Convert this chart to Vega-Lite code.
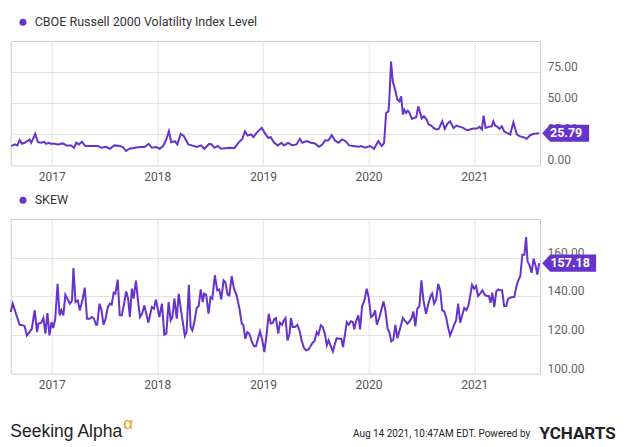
{
  "$schema": "https://vega.github.io/schema/vega-lite/v6.json",
  "padding": {"left": 5.7, "top": 9, "right": 0, "bottom": 0},
  "spacing": 4,
  "background": "white",
  "config": {
    "font": "Roboto",
    "view": {"stroke": "#cccccc", "strokeWidth": 1},
    "axis": {"gridColor": "#e2e2e2", "domain": false, "ticks": false, "labelColor": "#666666", "labelFontSize": 12, "labelFont": "Roboto"},
    "legend": {"orient": "top", "title": null, "symbolType": "circle", "symbolSize": 49, "symbolFillColor": "#6633cc", "symbolStrokeWidth": 0, "labelFontSize": 12.5, "labelColor": "#333333", "labelFont": "Roboto", "labelLimit": 0, "labelOffset": 5.5, "offset": 6, "padding": 6}
  },
  "datasets": {
    "rvx": [
      {"date": "2016-08-14", "value": 15.5}, {"date": "2016-08-26", "value": 16.8}, {"date": "2016-09-04", "value": 16.0}, {"date": "2016-09-12", "value": 20.2},
      {"date": "2016-09-20", "value": 17.3}, {"date": "2016-09-29", "value": 18.1}, {"date": "2016-10-08", "value": 19.4}, {"date": "2016-10-16", "value": 20.8},
      {"date": "2016-10-22", "value": 18.1}, {"date": "2016-11-05", "value": 25.3}, {"date": "2016-11-14", "value": 18.6}, {"date": "2016-11-26", "value": 18.1},
      {"date": "2016-12-05", "value": 18.9}, {"date": "2016-12-13", "value": 17.3}, {"date": "2016-12-21", "value": 18.1}, {"date": "2016-12-30", "value": 17.3},
      {"date": "2017-01-11", "value": 17.3}, {"date": "2017-01-22", "value": 16.8}, {"date": "2017-02-09", "value": 17.6}, {"date": "2017-02-20", "value": 16.0},
      {"date": "2017-03-09", "value": 16.0}, {"date": "2017-03-19", "value": 14.1}, {"date": "2017-03-27", "value": 18.1}, {"date": "2017-04-05", "value": 16.8},
      {"date": "2017-04-15", "value": 18.9}, {"date": "2017-04-27", "value": 15.5}, {"date": "2017-05-18", "value": 15.5}, {"date": "2017-06-10", "value": 15.5},
      {"date": "2017-06-21", "value": 14.1}, {"date": "2017-07-08", "value": 14.9}, {"date": "2017-07-20", "value": 13.3}, {"date": "2017-08-06", "value": 16.0},
      {"date": "2017-08-24", "value": 15.5}, {"date": "2017-09-04", "value": 14.7}, {"date": "2017-09-15", "value": 11.5}, {"date": "2017-09-27", "value": 13.3},
      {"date": "2017-10-15", "value": 14.1}, {"date": "2017-11-01", "value": 14.7}, {"date": "2017-11-18", "value": 14.7}, {"date": "2017-12-02", "value": 17.3},
      {"date": "2017-12-13", "value": 14.1}, {"date": "2017-12-28", "value": 14.7}, {"date": "2018-01-09", "value": 13.3}, {"date": "2018-01-21", "value": 15.5},
      {"date": "2018-02-01", "value": 20.8}, {"date": "2018-02-10", "value": 27.4}, {"date": "2018-02-18", "value": 18.6}, {"date": "2018-03-02", "value": 19.4},
      {"date": "2018-03-11", "value": 16.8}, {"date": "2018-03-23", "value": 25.3}, {"date": "2018-04-03", "value": 23.4}, {"date": "2018-04-18", "value": 16.8},
      {"date": "2018-04-30", "value": 16.0}, {"date": "2018-05-17", "value": 14.7}, {"date": "2018-06-01", "value": 16.0}, {"date": "2018-06-13", "value": 13.3},
      {"date": "2018-06-29", "value": 17.3}, {"date": "2018-07-08", "value": 16.8}, {"date": "2018-07-17", "value": 14.1}, {"date": "2018-07-29", "value": 15.5},
      {"date": "2018-08-09", "value": 13.3}, {"date": "2018-08-23", "value": 13.8}, {"date": "2018-09-09", "value": 14.1}, {"date": "2018-09-24", "value": 13.8},
      {"date": "2018-10-08", "value": 18.1}, {"date": "2018-10-22", "value": 21.3}, {"date": "2018-10-31", "value": 27.4}, {"date": "2018-11-09", "value": 24.0},
      {"date": "2018-11-21", "value": 24.8}, {"date": "2018-11-29", "value": 22.6}, {"date": "2018-12-10", "value": 26.1}, {"date": "2018-12-28", "value": 30.1},
      {"date": "2019-01-07", "value": 26.1}, {"date": "2019-01-19", "value": 22.1}, {"date": "2019-01-28", "value": 22.6}, {"date": "2019-02-09", "value": 18.1},
      {"date": "2019-02-22", "value": 16.0}, {"date": "2019-03-06", "value": 18.1}, {"date": "2019-03-15", "value": 16.0}, {"date": "2019-03-29", "value": 18.1},
      {"date": "2019-04-12", "value": 16.2}, {"date": "2019-04-27", "value": 16.8}, {"date": "2019-05-09", "value": 21.3}, {"date": "2019-05-17", "value": 18.1},
      {"date": "2019-06-01", "value": 19.4}, {"date": "2019-06-16", "value": 18.1}, {"date": "2019-06-30", "value": 17.6}, {"date": "2019-07-14", "value": 14.9},
      {"date": "2019-07-26", "value": 16.8}, {"date": "2019-08-04", "value": 20.2}, {"date": "2019-08-15", "value": 20.0}, {"date": "2019-08-27", "value": 24.2},
      {"date": "2019-09-07", "value": 20.0}, {"date": "2019-09-19", "value": 18.1}, {"date": "2019-10-02", "value": 20.8}, {"date": "2019-10-14", "value": 19.4},
      {"date": "2019-10-26", "value": 16.0}, {"date": "2019-11-10", "value": 15.5}, {"date": "2019-11-27", "value": 14.9}, {"date": "2019-12-08", "value": 15.5},
      {"date": "2019-12-20", "value": 14.1}, {"date": "2020-01-07", "value": 15.5}, {"date": "2020-01-20", "value": 13.3}, {"date": "2020-02-04", "value": 19.4},
      {"date": "2020-02-16", "value": 15.5}, {"date": "2020-02-24", "value": 18.1}, {"date": "2020-03-02", "value": 42.1}, {"date": "2020-03-10", "value": 43.4},
      {"date": "2020-03-13", "value": 52.7}, {"date": "2020-03-19", "value": 83.4}, {"date": "2020-03-25", "value": 67.4}, {"date": "2020-04-02", "value": 60.7},
      {"date": "2020-04-10", "value": 52.7}, {"date": "2020-04-17", "value": 51.4}, {"date": "2020-04-23", "value": 55.4}, {"date": "2020-04-29", "value": 40.8},
      {"date": "2020-05-04", "value": 44.7}, {"date": "2020-05-10", "value": 42.1}, {"date": "2020-05-16", "value": 43.9}, {"date": "2020-05-22", "value": 42.1},
      {"date": "2020-05-30", "value": 37.3}, {"date": "2020-06-07", "value": 38.1}, {"date": "2020-06-14", "value": 38.6}, {"date": "2020-06-21", "value": 47.4},
      {"date": "2020-06-27", "value": 42.6}, {"date": "2020-07-03", "value": 37.6}, {"date": "2020-07-11", "value": 39.4}, {"date": "2020-07-20", "value": 36.8},
      {"date": "2020-07-27", "value": 32.8}, {"date": "2020-08-05", "value": 32.0}, {"date": "2020-08-13", "value": 30.1}, {"date": "2020-08-22", "value": 28.8},
      {"date": "2020-08-31", "value": 29.3}, {"date": "2020-09-12", "value": 35.4}, {"date": "2020-09-21", "value": 29.3}, {"date": "2020-09-30", "value": 33.6},
      {"date": "2020-10-09", "value": 35.4}, {"date": "2020-10-21", "value": 30.1}, {"date": "2020-11-01", "value": 32.0}, {"date": "2020-11-13", "value": 30.9},
      {"date": "2020-11-24", "value": 30.1}, {"date": "2020-12-06", "value": 28.2}, {"date": "2020-12-17", "value": 28.8}, {"date": "2020-12-29", "value": 29.6},
      {"date": "2021-01-10", "value": 29.6}, {"date": "2021-01-19", "value": 30.9}, {"date": "2021-01-27", "value": 28.8}, {"date": "2021-02-02", "value": 40.0},
      {"date": "2021-02-09", "value": 30.1}, {"date": "2021-02-19", "value": 30.9}, {"date": "2021-03-02", "value": 31.4}, {"date": "2021-03-08", "value": 35.4},
      {"date": "2021-03-14", "value": 32.0}, {"date": "2021-03-22", "value": 30.9}, {"date": "2021-03-29", "value": 29.3}, {"date": "2021-04-06", "value": 31.4},
      {"date": "2021-04-14", "value": 27.4}, {"date": "2021-04-23", "value": 26.1}, {"date": "2021-05-05", "value": 24.8}, {"date": "2021-05-16", "value": 34.6},
      {"date": "2021-05-28", "value": 24.8}, {"date": "2021-06-06", "value": 23.5}, {"date": "2021-06-20", "value": 22.6}, {"date": "2021-07-01", "value": 21.3},
      {"date": "2021-07-13", "value": 24.2}, {"date": "2021-07-25", "value": 25.3}, {"date": "2021-08-05", "value": 25.5}, {"date": "2021-08-13", "value": 25.79}
    ],
    "skew": [
      {"date": "2016-08-12", "value": 131.9}, {"date": "2016-08-19", "value": 136.2}, {"date": "2016-09-01", "value": 130.2}, {"date": "2016-09-12", "value": 125.3},
      {"date": "2016-09-24", "value": 125.0}, {"date": "2016-09-29", "value": 124.6}, {"date": "2016-10-07", "value": 119.8}, {"date": "2016-10-16", "value": 121.5},
      {"date": "2016-10-24", "value": 123.3}, {"date": "2016-11-03", "value": 132.8}, {"date": "2016-11-11", "value": 121.5}, {"date": "2016-11-16", "value": 125.9},
      {"date": "2016-11-26", "value": 126.4}, {"date": "2016-12-03", "value": 128.8}, {"date": "2016-12-10", "value": 120.7}, {"date": "2016-12-17", "value": 131.4},
      {"date": "2016-12-24", "value": 119.8}, {"date": "2016-12-31", "value": 126.7}, {"date": "2017-01-06", "value": 123.6}, {"date": "2017-01-13", "value": 128.4},
      {"date": "2017-01-21", "value": 146.5}, {"date": "2017-01-28", "value": 130.2}, {"date": "2017-02-03", "value": 132.8}, {"date": "2017-02-10", "value": 130.2},
      {"date": "2017-02-17", "value": 140.8}, {"date": "2017-02-24", "value": 138.8}, {"date": "2017-03-05", "value": 136.2}, {"date": "2017-03-12", "value": 137.9},
      {"date": "2017-03-17", "value": 154.6}, {"date": "2017-03-24", "value": 137.0}, {"date": "2017-04-01", "value": 137.9}, {"date": "2017-04-08", "value": 132.8},
      {"date": "2017-04-18", "value": 138.8}, {"date": "2017-04-25", "value": 144.5}, {"date": "2017-05-03", "value": 128.4}, {"date": "2017-05-12", "value": 128.4},
      {"date": "2017-05-20", "value": 129.3}, {"date": "2017-05-27", "value": 128.4}, {"date": "2017-06-03", "value": 125.3}, {"date": "2017-06-07", "value": 125.3},
      {"date": "2017-06-15", "value": 136.2}, {"date": "2017-06-22", "value": 132.8}, {"date": "2017-06-29", "value": 125.3}, {"date": "2017-07-06", "value": 128.4},
      {"date": "2017-07-14", "value": 134.5}, {"date": "2017-07-21", "value": 136.2}, {"date": "2017-07-27", "value": 135.7}, {"date": "2017-08-03", "value": 141.9},
      {"date": "2017-08-09", "value": 141.4}, {"date": "2017-08-17", "value": 148.6}, {"date": "2017-08-24", "value": 130.2}, {"date": "2017-08-31", "value": 130.2},
      {"date": "2017-09-08", "value": 136.2}, {"date": "2017-09-15", "value": 142.6}, {"date": "2017-09-22", "value": 138.8}, {"date": "2017-09-28", "value": 129.3},
      {"date": "2017-10-05", "value": 144.0}, {"date": "2017-10-11", "value": 138.8}, {"date": "2017-10-19", "value": 148.1}, {"date": "2017-10-26", "value": 137.9},
      {"date": "2017-11-02", "value": 129.3}, {"date": "2017-11-09", "value": 131.0}, {"date": "2017-11-17", "value": 135.3}, {"date": "2017-12-01", "value": 126.4},
      {"date": "2017-12-13", "value": 134.5}, {"date": "2017-12-20", "value": 133.6}, {"date": "2017-12-27", "value": 138.3}, {"date": "2018-01-08", "value": 129.3},
      {"date": "2018-01-17", "value": 136.2}, {"date": "2018-01-25", "value": 120.2}, {"date": "2018-02-01", "value": 120.7}, {"date": "2018-02-09", "value": 137.0},
      {"date": "2018-02-16", "value": 127.6}, {"date": "2018-02-22", "value": 129.3}, {"date": "2018-03-01", "value": 138.8}, {"date": "2018-03-09", "value": 128.4},
      {"date": "2018-03-16", "value": 141.4}, {"date": "2018-03-23", "value": 133.6}, {"date": "2018-03-30", "value": 126.7}, {"date": "2018-04-06", "value": 119.5},
      {"date": "2018-04-12", "value": 121.5}, {"date": "2018-04-20", "value": 146.0}, {"date": "2018-04-26", "value": 124.1}, {"date": "2018-05-02", "value": 122.4},
      {"date": "2018-05-09", "value": 126.7}, {"date": "2018-05-17", "value": 134.0}, {"date": "2018-05-24", "value": 135.0}, {"date": "2018-05-31", "value": 143.6},
      {"date": "2018-06-07", "value": 137.0}, {"date": "2018-06-12", "value": 141.4}, {"date": "2018-06-19", "value": 140.8}, {"date": "2018-06-27", "value": 131.0},
      {"date": "2018-07-04", "value": 139.6}, {"date": "2018-07-10", "value": 138.8}, {"date": "2018-07-19", "value": 150.9}, {"date": "2018-07-27", "value": 143.1},
      {"date": "2018-08-03", "value": 143.6}, {"date": "2018-08-10", "value": 138.4}, {"date": "2018-08-18", "value": 148.3}, {"date": "2018-08-24", "value": 147.4},
      {"date": "2018-09-01", "value": 140.8}, {"date": "2018-09-07", "value": 140.5}, {"date": "2018-09-15", "value": 150.5}, {"date": "2018-09-23", "value": 144.0},
      {"date": "2018-10-02", "value": 140.5}, {"date": "2018-10-12", "value": 133.6}, {"date": "2018-10-20", "value": 125.9}, {"date": "2018-10-25", "value": 125.3},
      {"date": "2018-11-01", "value": 118.1}, {"date": "2018-11-08", "value": 121.5}, {"date": "2018-11-15", "value": 120.7}, {"date": "2018-11-24", "value": 116.4},
      {"date": "2018-12-02", "value": 114.1}, {"date": "2018-12-08", "value": 114.3}, {"date": "2018-12-15", "value": 118.1}, {"date": "2018-12-22", "value": 121.9},
      {"date": "2018-12-30", "value": 117.2}, {"date": "2019-01-06", "value": 111.2}, {"date": "2019-01-14", "value": 120.7}, {"date": "2019-01-21", "value": 131.0},
      {"date": "2019-01-28", "value": 125.9}, {"date": "2019-02-04", "value": 126.2}, {"date": "2019-02-10", "value": 128.4}, {"date": "2019-02-15", "value": 128.8},
      {"date": "2019-02-23", "value": 120.7}, {"date": "2019-03-01", "value": 126.4}, {"date": "2019-03-08", "value": 125.3}, {"date": "2019-03-13", "value": 127.1},
      {"date": "2019-03-20", "value": 128.8}, {"date": "2019-03-27", "value": 117.2}, {"date": "2019-04-03", "value": 120.7}, {"date": "2019-04-08", "value": 128.8},
      {"date": "2019-04-14", "value": 124.1}, {"date": "2019-04-22", "value": 124.1}, {"date": "2019-04-30", "value": 125.3}, {"date": "2019-05-07", "value": 122.4},
      {"date": "2019-05-15", "value": 117.2}, {"date": "2019-05-23", "value": 113.3}, {"date": "2019-05-30", "value": 112.1}, {"date": "2019-06-07", "value": 112.6},
      {"date": "2019-06-13", "value": 113.8}, {"date": "2019-06-22", "value": 116.0}, {"date": "2019-06-28", "value": 116.7}, {"date": "2019-07-06", "value": 121.5},
      {"date": "2019-07-12", "value": 120.2}, {"date": "2019-07-20", "value": 125.0}, {"date": "2019-07-27", "value": 124.1}, {"date": "2019-08-03", "value": 120.7},
      {"date": "2019-08-10", "value": 114.7}, {"date": "2019-08-16", "value": 117.2}, {"date": "2019-08-24", "value": 114.1}, {"date": "2019-08-31", "value": 111.5},
      {"date": "2019-09-07", "value": 115.5}, {"date": "2019-09-13", "value": 118.4}, {"date": "2019-09-21", "value": 118.1}, {"date": "2019-09-29", "value": 118.1},
      {"date": "2019-10-05", "value": 113.8}, {"date": "2019-10-12", "value": 120.7}, {"date": "2019-10-18", "value": 126.7}, {"date": "2019-10-25", "value": 125.3},
      {"date": "2019-11-01", "value": 127.1}, {"date": "2019-11-08", "value": 126.7}, {"date": "2019-11-13", "value": 122.9}, {"date": "2019-11-19", "value": 127.1},
      {"date": "2019-11-27", "value": 130.2}, {"date": "2019-12-03", "value": 122.9}, {"date": "2019-12-10", "value": 135.0}, {"date": "2019-12-17", "value": 137.4},
      {"date": "2019-12-26", "value": 144.0}, {"date": "2020-01-02", "value": 139.1}, {"date": "2020-01-10", "value": 129.3}, {"date": "2020-01-17", "value": 130.2},
      {"date": "2020-01-24", "value": 132.8}, {"date": "2020-01-30", "value": 125.3}, {"date": "2020-02-08", "value": 129.3}, {"date": "2020-02-15", "value": 133.3},
      {"date": "2020-02-22", "value": 137.4}, {"date": "2020-02-29", "value": 132.2}, {"date": "2020-03-07", "value": 123.3}, {"date": "2020-03-13", "value": 121.5},
      {"date": "2020-03-20", "value": 116.7}, {"date": "2020-03-27", "value": 117.7}, {"date": "2020-04-03", "value": 125.3}, {"date": "2020-04-10", "value": 118.4},
      {"date": "2020-04-19", "value": 123.3}, {"date": "2020-04-29", "value": 128.8}, {"date": "2020-05-05", "value": 127.6}, {"date": "2020-05-15", "value": 125.9},
      {"date": "2020-05-22", "value": 127.1}, {"date": "2020-05-29", "value": 128.8}, {"date": "2020-06-04", "value": 132.2}, {"date": "2020-06-11", "value": 124.6},
      {"date": "2020-06-18", "value": 133.6}, {"date": "2020-06-25", "value": 135.0}, {"date": "2020-07-02", "value": 148.3}, {"date": "2020-07-09", "value": 137.9},
      {"date": "2020-07-18", "value": 131.0}, {"date": "2020-07-26", "value": 136.2}, {"date": "2020-08-03", "value": 140.2}, {"date": "2020-08-08", "value": 141.4},
      {"date": "2020-08-15", "value": 136.2}, {"date": "2020-08-22", "value": 138.4}, {"date": "2020-08-29", "value": 146.5}, {"date": "2020-09-05", "value": 143.1},
      {"date": "2020-09-12", "value": 132.8}, {"date": "2020-09-19", "value": 132.2}, {"date": "2020-09-26", "value": 128.8}, {"date": "2020-10-02", "value": 124.1},
      {"date": "2020-10-09", "value": 119.8}, {"date": "2020-10-16", "value": 122.4}, {"date": "2020-10-23", "value": 125.3}, {"date": "2020-10-30", "value": 127.6},
      {"date": "2020-11-06", "value": 136.2}, {"date": "2020-11-13", "value": 126.4}, {"date": "2020-11-20", "value": 130.2}, {"date": "2020-11-27", "value": 134.0},
      {"date": "2020-12-04", "value": 132.8}, {"date": "2020-12-11", "value": 135.0}, {"date": "2020-12-17", "value": 139.6}, {"date": "2020-12-24", "value": 146.0},
      {"date": "2020-12-31", "value": 144.0}, {"date": "2021-01-07", "value": 145.3}, {"date": "2021-01-14", "value": 140.2}, {"date": "2021-01-21", "value": 141.4},
      {"date": "2021-01-29", "value": 143.1}, {"date": "2021-02-06", "value": 140.8}, {"date": "2021-02-13", "value": 140.2}, {"date": "2021-02-20", "value": 140.2},
      {"date": "2021-02-26", "value": 136.7}, {"date": "2021-03-04", "value": 141.9}, {"date": "2021-03-11", "value": 134.5}, {"date": "2021-03-18", "value": 142.6},
      {"date": "2021-03-25", "value": 143.6}, {"date": "2021-04-01", "value": 143.1}, {"date": "2021-04-07", "value": 143.1}, {"date": "2021-04-14", "value": 135.0},
      {"date": "2021-04-21", "value": 135.0}, {"date": "2021-04-28", "value": 138.8}, {"date": "2021-05-05", "value": 139.3}, {"date": "2021-05-12", "value": 139.6},
      {"date": "2021-05-19", "value": 139.6}, {"date": "2021-05-26", "value": 144.8}, {"date": "2021-06-02", "value": 148.3}, {"date": "2021-06-09", "value": 150.5},
      {"date": "2021-06-16", "value": 161.5}, {"date": "2021-06-23", "value": 161.5}, {"date": "2021-06-29", "value": 170.7}, {"date": "2021-07-04", "value": 158.1},
      {"date": "2021-07-11", "value": 156.0}, {"date": "2021-07-18", "value": 152.2}, {"date": "2021-07-25", "value": 159.5}, {"date": "2021-08-01", "value": 155.7},
      {"date": "2021-08-07", "value": 151.2}, {"date": "2021-08-13", "value": 157.18}
    ]
  },
  "vconcat": [
    {
      "width": 529.3,
      "height": 124.3,
      "data": {"name": "rvx"},
      "layer": [
        {
          "mark": {"type": "line", "strokeWidth": 2, "color": "#6633cc"},
          "encoding": {
            "x": {"field": "date", "type": "temporal",
                  "scale": {"domain": [{"year": 2016, "month": 8, "date": 12}, {"year": 2021, "month": 8, "date": 16}]},
                  "axis": {"format": "%Y", "title": null, "labelPadding": 6, "tickCount": {"interval": "year", "step": 1}, "labelColor": "#555555"}},
            "y": {"field": "value", "type": "quantitative",
                  "scale": {"domain": [0, 100]},
                  "axis": {"orient": "right", "values": [0, 25, 50, 75], "format": ".2f", "title": null, "labelPadding": 7, "labelBaseline": "alphabetic", "labelOffset": -1.5}},
            "color": {"datum": "CBOE Russell 2000 Volatility Index Level", "type": "nominal", "scale": {"range": ["#6633cc"]}}
          }
        },
        {
          "transform": [{"window": [{"op": "row_number", "as": "rn"}], "sort": [{"field": "date", "order": "descending"}]}, {"filter": "datum.rn == 1"}],
          "mark": {"type": "point", "shape": "M3,0L11,-8.5L50,-8.5L50,8.5L11,8.5Z", "size": 4, "filled": true, "fill": "#6633cc", "opacity": 1, "strokeWidth": 0},
          "encoding": {
            "x": {"field": "date", "type": "temporal"},
            "y": {"field": "value", "type": "quantitative"}
          }
        },
        {
          "transform": [{"window": [{"op": "row_number", "as": "rn"}], "sort": [{"field": "date", "order": "descending"}]}, {"filter": "datum.rn == 1"}],
          "mark": {"type": "text", "dx": 27, "align": "center", "baseline": "middle", "fontWeight": "bold", "fontSize": 12.5, "color": "white"},
          "encoding": {
            "x": {"field": "date", "type": "temporal"},
            "y": {"field": "value", "type": "quantitative"},
            "text": {"field": "value", "type": "quantitative", "format": ".2f"}
          }
        }
      ]
    },
    {
      "width": 529.3,
      "height": 154.7,
      "data": {"name": "skew"},
      "title": {"text": "Seeking Alpha", "orient": "bottom", "anchor": "start", "frame": "group", "font": "Liberation Sans", "fontSize": 17.5, "fontWeight": "normal", "color": "#222222", "dx": -0.4, "offset": -19},
      "layer": [
        {
          "mark": {"type": "line", "strokeWidth": 2, "color": "#6633cc"},
          "encoding": {
            "x": {"field": "date", "type": "temporal",
                  "scale": {"domain": [{"year": 2016, "month": 8, "date": 12}, {"year": 2021, "month": 8, "date": 16}]},
                  "axis": {"format": "%Y", "labelPadding": 6, "tickCount": {"interval": "year", "step": 1}, "labelColor": "#555555",
                           "title": "Aug 14 2021, 10:47AM EDT.  Powered by", "titleX": 519, "titleY": 60, "titleAlign": "right", "titleBaseline": "middle",
                           "titleFont": "Roboto", "titleFontSize": 10, "titleFontWeight": "normal", "titleColor": "#222222"}},
            "y": {"field": "value", "type": "quantitative",
                  "scale": {"domain": [100, 180]},
                  "axis": {"orient": "right", "values": [100, 120, 140, 160], "format": ".2f", "labelPadding": 7, "labelBaseline": "alphabetic", "labelOffset": -1.5,
                           "title": "YCHARTS", "titleAngle": 0, "titleX": 37, "titleY": 214.7, "titleAlign": "center", "titleBaseline": "middle",
                           "titleFont": "Roboto", "titleFontSize": 17, "titleFontWeight": "bold", "titleColor": "#222222"}},
            "color": {"datum": "SKEW", "type": "nominal", "scale": {"range": ["#6633cc"]}}
          }
        },
        {
          "transform": [{"window": [{"op": "row_number", "as": "rn"}], "sort": [{"field": "date", "order": "descending"}]}, {"filter": "datum.rn == 1"}],
          "mark": {"type": "point", "shape": "M3,0L11,-8.7L57,-8.7L57,8.7L11,8.7Z", "size": 4, "filled": true, "fill": "#6633cc", "opacity": 1, "strokeWidth": 0},
          "encoding": {
            "x": {"field": "date", "type": "temporal"},
            "y": {"field": "value", "type": "quantitative"}
          }
        },
        {
          "transform": [{"window": [{"op": "row_number", "as": "rn"}], "sort": [{"field": "date", "order": "descending"}]}, {"filter": "datum.rn == 1"}],
          "mark": {"type": "text", "dx": 31, "align": "center", "baseline": "middle", "fontWeight": "bold", "fontSize": 12.5, "color": "white"},
          "encoding": {
            "x": {"field": "date", "type": "temporal"},
            "y": {"field": "value", "type": "quantitative"},
            "text": {"field": "value", "type": "quantitative", "format": ".2f"}
          }
        }
      ]
    }
  ],
  "resolve": {"scale": {"color": "independent", "x": "independent", "y": "independent"}, "legend": {"color": "independent"}},
  "title": {"text": "α", "orient": "bottom", "anchor": "start", "color": "#f7931e", "font": "Liberation Sans", "fontSize": 17, "fontWeight": "normal", "dx": 117, "offset": -26.5}
}
